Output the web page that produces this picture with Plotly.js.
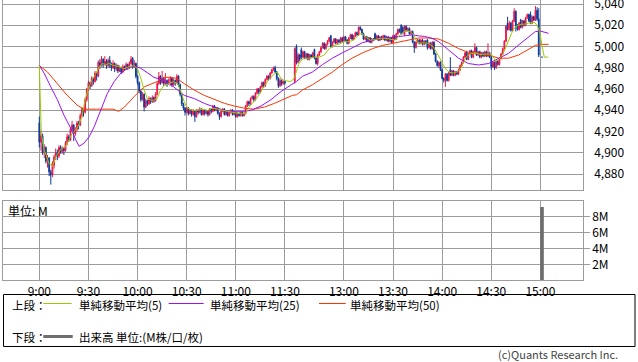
<!DOCTYPE html>
<html><head><meta charset="utf-8">
<script src="https://cdn.plot.ly/plotly-3.0.1.min.js"></script>
<style>html,body{margin:0;padding:0;background:#fff;}#chart{width:638px;height:362px;}</style>
</head><body><div id="chart"></div>
<script>
// ---- 1-minute candles, morning 9:00-11:30 (151 bars) ----
const amOpen = [4928,4910,4916,4900,4905,4892,4895,4882,4879,4888,
4896,4900,4897,4905,4901,4904,4902,4909,4915,4912,
4922,4926,4918,4922,4928,4926,4935,4941,4938,4950,
4960,4966,4963,4970,4967,4975,4972,4985,4982,4988,
4983,4986,4982,4987,4983,4980,4984,4979,4982,4977,
4980,4976,4981,4979,4983,4980,4984,4989,4981,4984,
4972,4966,4958,4950,4955,4943,4949,4946,4951,4948,
4952,4949,4955,4965,4972,4966,4970,4965,4968,4965,
4968,4970,4964,4968,4966,4972,4964,4955,4946,4942,
4938,4942,4937,4940,4936,4939,4934,4940,4938,4941,
4936,4940,4937,4939,4936,4941,4939,4944,4940,4942,
4937,4934,4939,4941,4936,4939,4935,4938,4940,4936,
4938,4934,4937,4935,4938,4935,4937,4944,4948,4946,
4951,4953,4950,4956,4960,4957,4962,4966,4963,4969,
4972,4970,4975,4978,4980,4976,4970,4963,4968,4965,
4967];
const amHigh = [4934,4921,4918,4908,4906,4898,4896,4884,4892,4898,
4904,4903,4907,4907,4906,4905,4911,4918,4917,4924,
4930,4927,4924,4930,4930,4937,4943,4942,4952,4961,
4968,4967,4972,4971,4977,4976,4987,4988,4991,4989,
4991,4988,4989,4991,4985,4987,4985,4984,4983,4982,
4981,4983,4982,4985,4984,4986,4991,4990,4987,4985,
4973,4967,4959,4957,4956,4951,4950,4953,4952,4954,
4953,4957,4967,4976,4973,4977,4971,4975,4969,4970,
4972,4971,4970,4969,4974,4973,4965,4956,4947,4943,
4944,4943,4941,4941,4941,4940,4941,4941,4943,4942,
4941,4941,4940,4940,4942,4942,4945,4945,4943,4943,
4938,4940,4942,4942,4940,4940,4939,4941,4941,4939,
4939,4938,4938,4939,4939,4938,4945,4949,4949,4952,
4954,4954,4957,4961,4961,4963,4967,4967,4970,4973,
4973,4976,4979,4981,4982,4977,4971,4970,4969,4968,
4968];
const amLow = [4905,4902,4898,4895,4890,4886,4878,4870,4877,4885,
4893,4893,4895,4899,4899,4898,4901,4907,4910,4911,
4920,4911,4916,4920,4922,4925,4933,4934,4937,4948,
4958,4960,4962,4964,4966,4968,4971,4979,4981,4980,
4982,4979,4980,4980,4977,4979,4976,4977,4975,4976,
4974,4975,4977,4978,4978,4979,4983,4979,4980,4970,
4964,4956,4948,4949,4939,4942,4944,4945,4946,4947,
4947,4948,4954,4964,4964,4965,4963,4964,4962,4964,
4963,4962,4963,4963,4965,4962,4953,4944,4940,4935,
4937,4935,4936,4934,4935,4929,4933,4936,4937,4935,
4935,4935,4936,4934,4935,4937,4938,4939,4939,4936,
4931,4933,4938,4935,4935,4934,4934,4937,4935,4935,
4933,4933,4934,4934,4934,4934,4936,4943,4944,4945,
4950,4948,4949,4955,4955,4956,4961,4961,4962,4968,
4968,4969,4974,4977,4975,4968,4961,4962,4963,4964,
4964];
const amClose = [4910,4916,4900,4905,4892,4895,4882,4879,4890,4896,
4900,4897,4905,4901,4904,4902,4909,4915,4912,4922,
4926,4918,4922,4928,4926,4935,4941,4938,4950,4960,
4966,4963,4970,4967,4975,4972,4985,4982,4988,4983,
4986,4982,4987,4983,4980,4984,4979,4982,4977,4980,
4976,4981,4979,4983,4980,4984,4988,4981,4984,4972,
4966,4958,4950,4955,4943,4949,4946,4951,4948,4952,
4949,4955,4965,4972,4966,4970,4965,4968,4965,4968,
4970,4964,4968,4966,4972,4964,4955,4946,4942,4938,
4942,4937,4940,4936,4939,4934,4940,4938,4941,4936,
4940,4937,4939,4936,4941,4939,4944,4940,4942,4937,
4934,4939,4941,4936,4939,4935,4938,4940,4936,4938,
4934,4937,4935,4938,4935,4937,4944,4948,4946,4951,
4953,4950,4956,4960,4957,4962,4966,4963,4969,4972,
4970,4975,4978,4980,4976,4970,4963,4968,4965,4967,
4966];
// ---- afternoon 12:30-14:59 (150 bars) ----
const pmOpen = [4967,5000,4985,4992,4997,4990,4995,4989,4993,4988,
4992,4990,4997,4989,4984,4992,4995,4999,5003,4998,
5002,5005,5010,5000,5004,5007,5003,5006,5004,5008,
5005,5009,5006,5003,5008,5011,5007,5010,5013,5011,
5018,5016,5012,5007,5009,5005,5008,5004,5007,5012,
5007,5010,5006,5009,5007,5010,5006,5009,5005,5008,
5004,5010,5007,5012,5016,5020,5018,5011,5019,5015,
5017,5012,5014,5004,4999,5004,5006,5003,5006,5002,
5005,5006,4999,5003,4998,5004,4993,4986,4982,4985,
4978,4970,4968,4974,4968,4978,4973,4977,4973,4976,
4974,4978,4982,4985,4990,4995,4988,4993,4996,4990,
4995,4999,4992,4995,4990,4994,4991,4995,4991,4994,
4990,4981,4985,4980,4986,4983,4989,4993,4998,5005,
5022,5016,5022,5015,5024,5033,5020,5016,5025,5018,
5024,5020,5027,5030,5030,5022,5028,5025,5034,5026];
const pmHigh = [4999,5002,4994,4993,4999,4996,4996,4994,4994,4993,
4993,4995,4998,4990,4993,4996,5000,5004,5004,5003,
5006,5009,5011,5005,5008,5008,5007,5007,5009,5009,
5010,5010,5007,5009,5012,5012,5011,5014,5014,5019,
5019,5017,5013,5010,5010,5009,5009,5008,5008,5013,
5011,5011,5010,5010,5011,5011,5010,5010,5009,5009,
5011,5011,5013,5017,5017,5021,5019,5020,5020,5018,
5018,5015,5015,5005,5005,5007,5007,5007,5007,5006,
5006,5007,5004,5004,5005,5005,4994,4987,4986,4986,
4979,4971,4975,4975,4976,4990,4978,4978,4977,4977,
4979,4983,4986,4991,4995,4996,4994,4997,4997,4996,
5003,5000,4996,4996,4995,4995,4996,4996,5003,4995,
4991,4986,4986,4987,4987,4990,4994,4999,5006,5020,
5028,5024,5023,5025,5036,5034,5021,5023,5026,5025,
5025,5028,5031,5031,5033,5029,5029,5038,5037,5036];
const pmLow = [4965,4983,4984,4986,4988,4989,4988,4988,4987,4987,
4989,4989,4988,4983,4982,4991,4994,4998,4997,4997,
5001,5004,4999,4999,5003,5002,5002,5003,5003,5004,
5004,5005,5002,5002,5007,5006,5006,5009,5010,5010,
5015,5011,5006,5006,5004,5004,5003,5003,5005,5006,
5006,5005,5005,5006,5006,5005,5005,5004,5004,5003,
5003,5006,5006,5011,5013,5011,5012,5010,5014,5014,
5011,5011,5003,4994,4998,5003,5002,5002,5001,5001,
5002,4997,4998,4997,4997,4992,4985,4981,4980,4977,
4969,4966,4962,4967,4967,4972,4972,4972,4972,4973,
4973,4977,4981,4984,4989,4987,4987,4992,4989,4989,
4994,4991,4991,4989,4989,4990,4990,4990,4990,4989,
4978,4980,4978,4979,4982,4982,4988,4992,4997,5004,
5015,5015,5014,5014,5023,5014,5015,5015,5017,5017,
5019,5019,5026,5023,5021,5021,5024,5024,5024,4990];
const pmClose = [4998,4985,4992,4988,4990,4995,4989,4993,4988,4992,
4990,4994,4989,4984,4992,4995,4999,5003,4998,5002,
5005,5008,5000,5004,5007,5003,5006,5004,5008,5005,
5009,5006,5003,5008,5011,5007,5010,5013,5011,5018,
5016,5012,5007,5009,5005,5008,5004,5007,5006,5007,
5010,5006,5009,5007,5010,5006,5009,5005,5008,5004,
5010,5007,5012,5016,5014,5012,5013,5019,5015,5017,
5012,5014,5004,4999,5004,5006,5003,5006,5002,5005,
5003,4999,5003,4998,5004,4993,4986,4982,4985,4978,
4970,4968,4974,4968,4975,4973,4977,4973,4976,4974,
4978,4982,4985,4990,4994,4988,4993,4996,4990,4995,
4999,4992,4995,4990,4994,4991,4995,4991,4994,4990,
4981,4985,4980,4986,4983,4989,4993,4998,5005,5019,
5016,5022,5015,5024,5033,5020,5016,5022,5018,5024,
5020,5027,5030,5024,5022,5028,5025,5034,5026,4992];
// closing auction 15:00
const closingPrice = 4990;
const closingVolume = 9.2e6;

// ---- moving averages (slot index, value) ----
const ma5T = [0,1.2,2.9,5.9,8,10,13,16,18,20,22,24,26,28,30,32,34.4,36.5,38.5,40.5,42.6,45.6,48.7,51.7,54.8,57.8,59.9,62,64,66,69,72,74,76,79,82,84.4,86.5,88.5,90.4,93.4,96.5,99.6,102.7,105.7,108.8,111.8,114.9,119,123,126,128,131,134,137,140,143.4,145.4,147.5,149.5,153.6,155.6,156.7,158.3,159.8,161.9,165,168,171,174,177,180,183,186,189,192,195,197.1,199.1,202.1,205.2,208.2,211.3,214.3,217.4,220.4,223.5,226.5,228.6,230.6,232.7,235,237.4,240.5,242.5,244.6,246.6,248.6,250.7,252.7,254.7,256.8,258.8,260.9,262.9,264.9,267,269,272,275.2,277.2,278.6,280.3,282.3,284.3,286.4,288.4,290.4,292.5,294.5,296.5,298.6,300.6,302.6,304.3,305.7,307.1,308.4,310.8];
const ma5 = [4982,4918,4903,4890,4887,4896,4903,4906,4912,4918,4921,4926,4934,4950,4961,4968,4974,4981,4984,4983,4984,4982,4981,4979,4981,4982,4979,4970,4959,4951,4949,4951,4959,4963,4965,4967,4965,4957.5,4948,4942,4940,4940,4941,4940,4942,4941,4940,4939,4938,4936.5,4937,4943,4948,4954,4962,4968.5,4974,4976,4970,4968,4967,4970,4975,4983,4987,4989,4989,4990,4990,4992,4998,5001,5002,5004.5,5004.5,5006,5011,5012.4,5009,5006,5006.5,5007.7,5007.7,5007,5006,5011,5015,5014,5011,5004.5,5003,5003.5,5003,5000,4995,4989,4983,4978,4975.6,4975,4975.6,4978,4984,4990.6,4993,4993.6,4994,4992.5,4993,4993,4990.6,4986,4987.5,4990.6,4997,5005,5012.5,5018,5020,5021,5021,5022,5022.5,5022.5,5019,5012.5,5000,4990,4990];
const ma25T = [0,2.9,7,11,15,19.2,22.3,24.3,27.3,30.4,33.5,37.5,41.6,45.7,49.8,53.8,57.9,62,66,70,74,78,80.4,84.4,88.5,94.6,100.7,106.8,113,119,125,129.3,135.4,141.5,147.6,153.8,157,160.7,166.8,173,179,185,191,197.4,203.5,209.6,215.7,221.8,228,231.6,235.3,239.8,243.9,250,256,262,268.3,274.4,280.5,286.6,292.7,298.8,302.9,306,311];
const ma25 = [4982,4975,4962,4950,4935.5,4923,4912,4906,4909,4915,4924.5,4940,4956,4967,4975,4979.5,4981.6,4979.5,4975,4971,4969,4966.5,4964,4959,4954,4951,4946.5,4943,4940,4939,4939,4940,4944,4950,4957.6,4964,4967,4972,4976,4983,4989,4994,4999,5003.6,5006,5007.7,5008.6,5010,5011,5010,5009.5,5007.7,5004.5,4996.7,4989,4984,4982.6,4984,4989,4993.6,5001.4,5009,5014,5014.5,5012.4];
const ma50T = [0,5,11,17,23,27,35,45,48.5,52,58,64,72,76,80,84,88.5,94.6,100.7,106.8,113,119,125,131,137.5,143.6,150.7,154.6,157,160.7,166.8,173,179,185,191,197.4,203.5,209.6,215.7,221.8,228,231.6,237.7,243.9,250,256,262,268.3,274.4,280.5,286.6,292.7,298.8,302.9,306,311];
const ma50 = [4982,4976,4965,4954,4945,4941,4941,4941,4939,4943,4953,4962,4967,4971,4971,4970,4965,4959,4954,4950,4946.5,4944,4942,4941,4943,4946.5,4951,4954,4954.5,4959,4964,4970,4976,4983,4989,4994,4998,5001,5003,5005.5,5007,5008,5008,5007,5003,4998,4994.5,4993,4992,4989,4989,4992,4997,5001,5002,5002];

// ---- axis labels ----
const timeTicks = [[9,0],[9,30],[10,0],[10,30],[11,0],[11,30],[13,0],[13,30],[14,0],[14,30],[15,0]];
const priceTicks = [4880,4900,4920,4940,4960,4980,5000,5020,5040];
const volTicks = [2e6,4e6,6e6,8e6];
const volTickText = ['2M','4M','6M','8M'];

// ---- time -> slot (lunch break compressed) ----
function slot(h, m) { const t = h * 60 + m; return t <= 690 ? t - 540 : t - 750 + 156; }
const xs = [];
for (let t = 540; t <= 690; t++) xs.push(slot(Math.floor(t / 60), t % 60));
for (let t = 750; t < 900; t++) xs.push(slot(Math.floor(t / 60), t % 60));
const closingSlot = slot(15, 0) + 1;
xs.push(closingSlot);

const open = amOpen.concat(pmOpen, [closingPrice]);
const high = amHigh.concat(pmHigh, [closingPrice]);
const low = amLow.concat(pmLow, [closingPrice]);
const close = amClose.concat(pmClose, [closingPrice]);

const RED = '#f0164a', BLUE = '#0b3a9a';
const GRID = '#9c9c9c';
const FONT = '"Noto Sans CJK JP", "Noto Sans", sans-serif';
const W = 638, H = 362;
const px = v => v / W, py = v => 1 - v / H;

const traces = [
  {type: 'candlestick', x: xs, open: open, high: high, low: low, close: close,
   xaxis: 'x', yaxis: 'y', whiskerwidth: 0, hoverinfo: 'skip',
   increasing: {line: {color: RED, width: 1}, fillcolor: RED},
   decreasing: {line: {color: BLUE, width: 1}, fillcolor: BLUE}},
  {type: 'scatter', mode: 'lines', x: ma50T, y: ma50, xaxis: 'x', yaxis: 'y', line: {color: '#ff3300', width: 1}, hoverinfo: 'skip'},
  {type: 'scatter', mode: 'lines', x: ma25T, y: ma25, xaxis: 'x', yaxis: 'y', line: {color: '#9b12f5', width: 1}, hoverinfo: 'skip'},
  {type: 'scatter', mode: 'lines', x: ma5T, y: ma5, xaxis: 'x', yaxis: 'y', line: {color: '#99cc00', width: 1}, hoverinfo: 'skip'},
  {type: 'bar', x: [closingSlot], y: [closingVolume], xaxis: 'x2', yaxis: 'y2', width: 2.2,
   marker: {color: '#6e6e6e', line: {width: 0}}, hoverinfo: 'skip'}
];

const tickvals = timeTicks.map(t => slot(t[0], t[1]));
const ticktext = timeTicks.map(t => t[0] + ':' + String(t[1]).padStart(2, '0'));
const xDomain = [px(3.3), px(582.8)];
const xRange = [-22.0, 331.9];
const tickFont = {family: FONT, size: 12, color: '#000'};

const legendFont = {family: FONT, size: 11.5, color: '#000'};
function note(text, x, y, extra) {
  return Object.assign({text: text, xref: 'paper', yref: 'paper', x: px(x), y: py(y),
    xanchor: 'left', yanchor: 'middle', showarrow: false, font: legendFont, borderpad: 0}, extra || {});
}

const layout = {
  width: W, height: H, margin: {l: 0, r: 0, t: 0, b: 0},
  paper_bgcolor: '#fff', plot_bgcolor: '#fff', showlegend: false, separators: '.,',
  xaxis: {domain: xDomain, range: xRange, anchor: 'y', tickvals: tickvals, showticklabels: false,
    showgrid: true, gridcolor: GRID, gridwidth: 1, zeroline: false, showline: true, linecolor: GRID,
    linewidth: 1, ticks: '', rangeslider: {visible: false}, fixedrange: true},
  yaxis: {domain: [py(190), 1], range: [4864.94, 5043.76], anchor: 'x', side: 'right',
    tickvals: priceTicks, tickformat: ',d', tickfont: tickFont, ticks: 'outside', ticklen: 8,
    tickcolor: 'rgba(0,0,0,0)', ticklabeloverflow: 'allow', showgrid: true, gridcolor: GRID, zeroline: false,
    showline: true, mirror: true, linecolor: GRID, linewidth: 1, fixedrange: true},
  xaxis2: {domain: xDomain, range: xRange, anchor: 'y2', tickvals: tickvals, ticktext: ticktext,
    tickfont: tickFont, showgrid: true, gridcolor: GRID, zeroline: false, showline: true,
    mirror: true, linecolor: GRID, linewidth: 1, ticks: '', fixedrange: true},
  yaxis2: {domain: [py(280.3), py(201)], range: [0, 9.97e6], anchor: 'x2', side: 'right',
    tickvals: volTicks, ticktext: volTickText, tickfont: tickFont, ticks: 'outside', ticklen: 6,
    tickcolor: GRID, showgrid: true, gridcolor: GRID, zeroline: false, showline: true,
    mirror: true, linecolor: GRID, linewidth: 1, fixedrange: true},
  shapes: [
    {type: 'rect', xref: 'paper', yref: 'paper', x0: px(3.5), x1: px(635), y0: py(346.5), y1: py(294.5),
     line: {color: '#000', width: 1}},
    {type: 'line', xref: 'paper', yref: 'paper', x0: px(43.3), x1: px(71.7), y0: py(303.5), y1: py(303.5), line: {color: '#99cc00', width: 1}},
    {type: 'line', xref: 'paper', yref: 'paper', x0: px(168.7), x1: px(203.7), y0: py(303.5), y1: py(303.5), line: {color: '#9b12f5', width: 1}},
    {type: 'line', xref: 'paper', yref: 'paper', x0: px(319), x1: px(345.7), y0: py(303.5), y1: py(303.5), line: {color: '#ff3300', width: 1}},
    {type: 'line', xref: 'paper', yref: 'paper', x0: px(43.3), x1: px(72.7), y0: py(336.5), y1: py(336.5), line: {color: '#6e6e6e', width: 3}}
  ],
  annotations: [
    note('単位: M', 7, 210, {font: {family: FONT, size: 12, color: '#000'}}),
    note('上段：', 11, 304.5),
    note('単純移動平均(5)', 77.5, 304.5),
    note('単純移動平均(25)', 209, 304.5),
    note('単純移動平均(50)', 349, 304.5),
    note('下段：', 11, 336.5),
    note('出来高 単位:(M株/口/枚)', 77.5, 336.5),
    note('(c)Quants Research Inc.', 619, 353.5, {xanchor: 'right', font: {family: FONT, size: 11, color: '#444'}})
  ]
};

Plotly.newPlot('chart', traces, layout, {displayModeBar: false, staticPlot: true});
</script>
</body></html>
